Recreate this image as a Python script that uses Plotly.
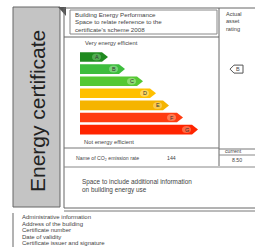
import plotly.graph_objects as go

# ---- data ----
ratings = ["A", "B", "C", "D", "E", "F", "G"]
bar_ends = [108, 125, 143, 156, 169, 183, 198]
bar_colors = ["#1f8a1f", "#3dbd3d", "#55c832", "#ffc000", "#f5b400", "#ff3c10", "#ff2400"]
label_colors = ["#5fb45f", "#86d886", "#9be07f", "#ffdc70", "#fbd060", "#ff8a60", "#ff7a55"]
header_lines = ["Building Energy Performance", "Space to relate reference to the", "certificate's scheme 2008"]
right_header = ["Actual", "asset", "rating"]
admin_lines = ["Administrative information", "Address of the building",
               "Certificate number", "Date of validity", "Certificate issuer and signature"]
asset_rating = "B"
emission_value = "144"
current_value = "8.50"

W, H = 255, 247
fig = go.Figure()
shapes = []
ann = []

def line(x0, y0, x1, y1, c="#555", w=1):
    shapes.append(dict(type="line", x0=x0, y0=y0, x1=x1, y1=y1, line=dict(color=c, width=w)))

def text(x, y, s, size=4.5, color="#444", anchor="left", angle=0, font="Liberation Sans"):
    ann.append(dict(x=x, y=y, text=s, showarrow=False, xanchor=anchor, yanchor="middle",
                    textangle=angle, font=dict(size=size, color=color, family=font)))

# left grey panel
shapes.append(dict(type="rect", x0=13, y0=7, x1=60, y1=207, fillcolor="#c4c4c4",
                   line=dict(color="#666", width=1)))
shapes.append(dict(type="path", path="M 58 7 L 66 7 L 66 16 Z", fillcolor="#555", line=dict(width=0)))
text(37, 111, "Energy certificate", size=21, color="#222", anchor="center", angle=-90,
     font="Liberation Sans Narrow, Liberation Sans")

# main box
shapes.append(dict(type="rect", x0=64, y0=8, x1=256, y1=208, line=dict(color="#666", width=1)))
line(64, 211, 256, 211, "#777", 1)
line(219, 8, 219, 166, "#666", 1)
shapes.append(dict(type="rect", x0=70, y0=10, x1=217, y1=34, line=dict(color="#888", width=1)))
line(64, 37, 219, 37, "#666", 1)
line(64, 148, 219, 148, "#777", 1)
line(219, 149, 256, 149, "#777", 1)
line(219, 155, 256, 155, "#888", 1)
line(64, 167, 256, 167, "#888", 1)

for i, s in enumerate(header_lines):
    text(73, 14 + i * 7.6, s, size=6.2)
for i, s in enumerate(right_header):
    text(224, 14 + i * 7.3, s, size=5.6)

text(83, 43, "Very energy efficient", size=5.8)
text(82, 142, "Not energy efficient", size=5.8)
text(74, 158, "Name of CO\u2082 emission rate", size=5.2)
text(165, 158, emission_value, size=5.2)
text(223, 151, "current", size=5.2)
text(230, 160, current_value, size=5.2)
text(80, 182, "Space to include additional information", size=6.4)
text(80, 189.5, "on building energy use", size=6.4)

# bars
y0 = 57.0
step = 12.1
hh = 4.8
x_start = 80
for i, (r, e, c, lc) in enumerate(zip(ratings, bar_ends, bar_colors, label_colors)):
    yc = y0 + i * step
    path = f"M {x_start} {yc-hh} L {e-6} {yc-hh} L {e} {yc} L {e-6} {yc+hh} L {x_start} {yc+hh} Z"
    shapes.append(dict(type="path", path=path, fillcolor=c, line=dict(width=0)))
    shapes.append(dict(type="circle", x0=e - 16, x1=e - 7, y0=yc - 3.5, y1=yc + 3.5,
                       fillcolor=lc, line=dict(width=0), opacity=0.8))
    text(e - 11.5, yc, r, size=5.5, color="#333", anchor="center")

# asset rating indicator
ri = ratings.index(asset_rating)
yc = y0 + ri * step
shapes.append(dict(type="path",
                   path=f"M 230 {yc} L 234 {yc-4} L 243 {yc-4} L 243 {yc+4} L 234 {yc+4} Z",
                   fillcolor="white", line=dict(color="#555", width=1)))
text(238, yc, asset_rating, size=5.5, anchor="center")

# bottom admin section
line(13, 213, 13, 247, "#666", 1)
for i, s in enumerate(admin_lines):
    text(20, 217 + i * 6.5, s, size=6)

fig.update_layout(width=W, height=H, margin=dict(l=0, r=0, t=0, b=0),
                  paper_bgcolor="white", plot_bgcolor="white",
                  shapes=shapes, annotations=ann, showlegend=False,
                  xaxis=dict(range=[0, W], visible=False, fixedrange=True),
                  yaxis=dict(range=[H, 0], visible=False, fixedrange=True))
fig.write_html("out.html", config={"displayModeBar": False},
               post_script="document.body.style.margin='0';document.body.style.overflow='hidden';")
